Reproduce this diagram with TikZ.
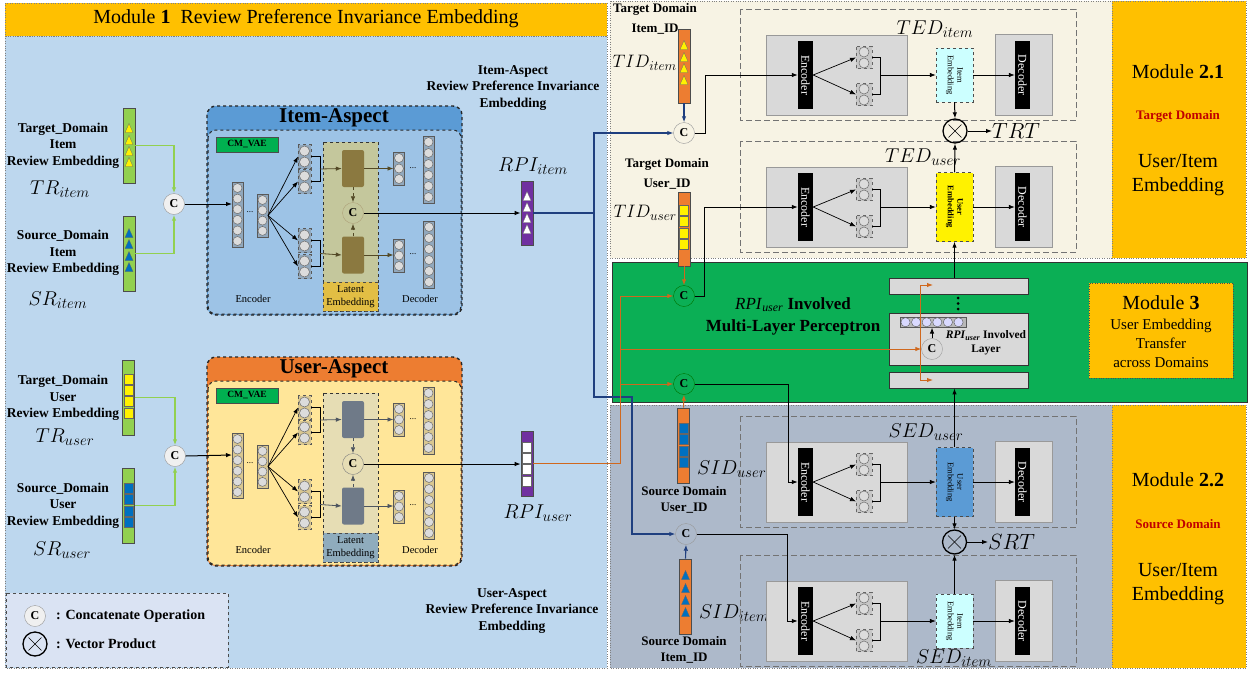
\documentclass[tikz,border=0pt]{standalone}
\usepackage{fix-cm}
\usepackage{fontspec}
\setmainfont{Liberation Serif}
\DeclareMathSizes{20}{20}{15}{11}
\DeclareMathSizes{22}{22}{16.5}{12}
\DeclareMathSizes{18}{18}{13.5}{10}
\usetikzlibrary{arrows.meta,calc}
\definecolor{leftbg}{HTML}{BDD7EE}
\definecolor{hdr}{HTML}{FFC000}
\definecolor{cream}{HTML}{F7F3E4}
\definecolor{mlpgreen}{HTML}{0BAF55}
\definecolor{botbg}{HTML}{ADB9CA}
\definecolor{iaHead}{HTML}{5B9BD5}
\definecolor{iaBody}{HTML}{9DC3E6}
\definecolor{uaHead}{HTML}{ED7D31}
\definecolor{uaBody}{HTML}{FFE699}
\definecolor{cmgreen}{HTML}{00B050}
\definecolor{latI}{HTML}{C4C79C}
\definecolor{blkI}{HTML}{8B7940}
\definecolor{lblI}{HTML}{E2BE44}
\definecolor{latU}{HTML}{E6DDB4}
\definecolor{blkU}{HTML}{6F7A88}
\definecolor{lblU}{HTML}{8FACBD}
\definecolor{barG}{HTML}{92D050}
\definecolor{barO}{HTML}{ED7D31}
\definecolor{purp}{HTML}{7030A0}
\definecolor{myblue}{HTML}{0070C0}
\definecolor{navy}{HTML}{1F3F7F}
\definecolor{orln}{HTML}{D0681E}
\definecolor{embB}{HTML}{5B9BD5}
\definecolor{embC}{HTML}{CCFFFF}
\definecolor{gbox}{HTML}{D9D9D9}
\definecolor{legbg}{HTML}{DAE3F3}
\definecolor{darkred}{HTML}{C00000}
\definecolor{neurfill}{HTML}{DCDCDC}

\newcommand\fsz[2]{\fontsize{#1}{#2}\selectfont}

\tikzset{
 neur/.style={draw=gray!85!black, fill=neurfill, line width=0.5pt},
 lbl/.style={font=\fsz{13.5}{16.5}\bfseries, align=center, inner sep=0pt},
 mlbl/.style={font=\fsz{20}{24}, inner sep=0pt},
 sm/.style={font=\fsz{10.5}{12.5}, align=center, inner sep=0pt},
 cnode/.style={circle, draw=gray!80, fill=white!88!gray, minimum size=21pt, inner sep=0pt, font=\fsz{12}{12}\bfseries},
 gcnode/.style={cnode, draw=black!55!green, fill=mlpgreen},
 xnode/.style={circle, draw=black, line width=1.3pt, minimum size=24pt, inner sep=0pt},
 cmvae/.style={draw=black!70, fill=cmgreen, minimum width=62pt, minimum height=15pt, inner sep=0pt, font=\fsz{9.5}{10}\bfseries},
 encbar/.style={fill=black, minimum width=15pt, minimum height=68pt, inner sep=0pt},
 bartxt/.style={rotate=-90, text=white, font=\fsz{12}{12}, inner sep=0pt},
 embI/.style={draw=black!70, dashed, fill=embC, minimum width=37pt, minimum height=54pt, inner sep=0pt},
 embY/.style={draw=black!70, dashed, fill=yellow, minimum width=37pt, minimum height=69pt, inner sep=0pt},
 embBl/.style={draw=black!70, dashed, fill=embB, minimum width=37pt, minimum height=69pt, inner sep=0pt},
 embtxt/.style={rotate=-90, font=\fsz{8.5}{9.5}, align=center, inner sep=0pt},
 graybox/.style={draw=gray!80, fill=gbox, line width=0.6pt},
 dashbox/.style={draw=gray!90!black, dash pattern=on 6pt off 3pt, line width=1pt},
 vbar/.style={draw=black!70, minimum width=12pt, inner sep=0pt, line width=0.6pt},
 mlpbar/.style={draw=black!80, fill=gbox, minimum width=139pt, inner sep=0pt, line width=0.8pt},
 oline/.style={draw=orln, line width=1pt},
 bline/.style={draw=navy, line width=1.1pt},
 gline/.style={draw=barG, line width=1.8pt},
 kline/.style={draw=black, line width=1pt},
 tline/.style={draw=black, line width=0.7pt},
}

\newcommand\NNcol[4]{%
 \draw[colfr] ({#1-5.5},{#2-6}) rectangle ({#1+5.5},{#2+(#3-1)*#4+6});
 \foreach \k in {1,...,#3}{\draw[neur] (#1,{#2+(\k-1)*#4}) circle[radius=4.5pt];}
}
\newcommand\NNpair[2]{%
 \draw[colfr, dashed] ({#1-6.5},{#2-6.5}) rectangle ({#1+6.5},{#2+17.5});
 \draw[neur] (#1,#2) circle[radius=5pt];
 \draw[neur] (#1,{#2+11}) circle[radius=5pt];
}
\newcommand\NNpairS[2]{%
 \draw[draw=gray!80!black, dashed, fill=gbox!80!gray, line width=0.5pt] ({#1-8},{#2-5.5}) rectangle ({#1+8},{#2+16.5});
 \draw[neur] (#1,#2) circle[radius=5pt];
 \draw[neur] (#1,{#2+11}) circle[radius=5pt];
}
\newcommand\triU[3]{\draw[fill=#3, draw=black!60, line width=0.3pt] ({#1-4},{#2+4.5}) -- ({#1+4},{#2+4.5}) -- (#1,{#2-4.5}) -- cycle;}
\newcommand\sqU[3]{\draw[fill=#3, draw=black!60, line width=0.3pt] ({#1-4.5},{#2-5}) rectangle ({#1+4.5},{#2+5});}

\newcommand\AspectBody[1]{%
 \draw[aspHead, dashed, line width=1.4pt, rounded corners=9pt] (207,106) rectangle (462,315);
 \draw[aspBody, dashed, line width=1pt, rounded corners=8pt] (208,130) rectangle (461,314);
 \node[font=\fsz{21}{24}\bfseries, inner sep=0pt] (title) at (334,118) {#1};
 \node[cmvae] (cm) at (247,144.5) {CM\_VAE};
 \NNcol{237.5}{188}{6}{10.6}
 \node[font=\fsz{9}{9}, inner sep=0pt] (d1) at (250,212) {...};
 \NNcol{262.5}{200}{4}{10.3}
 \coordinate (encin) at (232,204);
 \coordinate (encout) at (268,215.5);
 \NNpair{304.5}{151}\NNpair{304.5}{176}\NNpair{304.5}{235}\NNpair{304.5}{261}
 \foreach \yy in {156.5,181.5,240.5,266.5}{\draw[tline,->] (encout) -- (298,\yy);}
 \draw[latbg, dashed, line width=0.9pt] (323,142) rectangle (378,311);
 \node[latlbl] (ll) at (350.5,296.5) {Latent\\Embedding};
 \node[blk] (b1) at (353,168.5) {};
 \node[blk] (b2) at (353,255) {};
 \node[latc] (lc) at (353,213) {C};
 \draw[blkarrow, dashed, ->] (b1.south) -- (lc.north);
 \draw[blkarrow, dashed, ->] (b2.north) -- (lc.south);
 \draw[tline] (311,156.5) -| (320,181.5) -- (311,181.5);
 \draw[tline] (311,240.5) -| (320,266.5) -- (311,266.5);
 \draw[blkarrow, ->] (320,169) -- (b1.west);
 \draw[blkarrow, ->] (320,253.5) -- (b2.west);
 \draw[blkarrow, ->] (b1.east) -- (393.5,168.5);
 \draw[blkarrow, ->] (b2.east) -- (393.5,255);
 \NNcol{399}{158}{3}{10.5}
 \NNcol{399}{245}{3}{10.5}
 \node[font=\fsz{9}{9}, inner sep=0pt] (d2) at (413,168) {...};
 \node[font=\fsz{9}{9}, inner sep=0pt] (d3) at (413,254) {...};
 \NNcol{428.5}{142}{6}{11}
 \NNcol{429}{227}{6}{11}
 \node[sm] (enl) at (253,299) {Encoder};
 \node[sm] (del) at (420,299) {Decoder};
}

\newcommand\EDunit[3]{%
 \draw[dashbox] (740,-66) rectangle (1076,45);
 \draw[graybox] (766,-40) rectangle (907,40);
 \node[encbar] (enc) at (805.5,0) {};
 \node[bartxt] (enct) at (enc) {Encoder};
 \NNpairS{864}{-23}\NNpairS{864}{14}
 \draw[tline,->] (enc.east) -- (856,-17.5);
 \draw[tline,->] (enc.east) -- (856,19.5);
 \draw[tline] (872,-17.5) -| (880,19.5) -- (872,19.5);
 \node[#1] (emb) at (954.5,0) {};
 \node[embtxt, #3] (embt) at (emb) {#2};
 \draw[tline,->] (880,0) -- (emb.west);
 \draw[graybox] (995,-41) rectangle (1052,40);
 \node[encbar] (dec) at (1022.5,0) {};
 \node[bartxt] (dect) at (dec) {Decoder};
 \draw[tline,->] (emb.east) -- (dec.west);
}

\begin{document}
\begin{tikzpicture}[x=1pt,y=-1pt, >={Latex[length=6pt,width=4.5pt]}]
\useasboundingbox (0,0) rectangle (1249,672);
\fill[white] (0,0) rectangle (1249,672);

% ---------- panels
\draw[fill=leftbg, draw=gray, dotted] (5,36) rectangle (607,668);
\draw[fill=hdr, draw=gray, dotted] (5,3) rectangle (607,36);
\node[font=\fsz{20}{24}, inner sep=0pt] (m1t) at (306,19) {Module \textbf{1}\ \ Review Preference Invariance Embedding};

\draw[fill=cream, draw=gray, dotted] (610,1) rectangle (1112,258);
\draw[fill=hdr, draw=gray, dotted] (1112,1) rectangle (1246,258);
\draw[fill=mlpgreen, draw=black!80, line width=0.8pt] (612,262) rectangle (1247,402);
\draw[fill=botbg, draw=gray, dotted] (610,405) rectangle (1112,668);
\draw[fill=hdr, draw=gray, dotted] (1112,405) rectangle (1246,668);

% module texts
\node[font=\fsz{20}{24}, inner sep=0pt] (m21a) at (1178,72) {Module \textbf{2.1}};
\node[font=\fsz{13}{15}\bfseries, text=darkred, inner sep=0pt] (m21b) at (1178,116) {Target Domain};
\node[font=\fsz{20}{24}, align=center, inner sep=0pt] (m21c) at (1178,175) {User/Item\\Embedding};
\node[font=\fsz{20}{24}, inner sep=0pt] (m22a) at (1178,480) {Module \textbf{2.2}};
\node[font=\fsz{13}{15}\bfseries, text=darkred, inner sep=0pt] (m22b) at (1178,524) {Source Domain};
\node[font=\fsz{20}{24}, align=center, inner sep=0pt] (m22c) at (1178,584) {User/Item\\Embedding};
\node[draw=black!70, dotted, fill=hdr, minimum width=144pt, minimum height=95pt, inner sep=0pt] (m3) at (1161,330.5) {};
\node[font=\fsz{20}{22}, inner sep=0pt] (m3a) at (1161,303) {Module \textbf{3}};
\node[font=\fsz{15}{19}, align=center, inner sep=0pt] (m3b) at (1161,343) {User Embedding\\Transfer\\across Domains};

% ---------- left inputs
\node[lbl] (tdI) at (63,145.5) {Target\_Domain\\Item\\Review Embedding};
\node[lbl] (sdI) at (63,253) {Source\_Domain\\Item\\Review Embedding};
\node[lbl] (tdU) at (63,398) {Target\_Domain\\User\\Review Embedding};
\node[lbl] (sdU) at (63,505.5) {Source\_Domain\\User\\Review Embedding};
\node[mlbl] (trIl) at (60,189) {$TR_{item}$};
\node[mlbl] (srIl) at (58,300) {$SR_{item}$};
\node[mlbl] (trUl) at (65,437) {$TR_{user}$};
\node[mlbl] (srUl) at (62,550) {$SR_{user}$};

\node[vbar, fill=barG, minimum height=75pt] (trI) at (129,145.5) {};
\foreach \yy in {128,140,151,162}{\triU{129}{\yy}{yellow}}
\node[vbar, fill=barG, minimum height=75pt] (srI) at (129,253.5) {};
\foreach \yy in {233,244,256,267}{\triU{129}{\yy}{myblue}}
\node[vbar, fill=barG, minimum height=75pt] (trU) at (128.5,397.5) {};
\foreach \yy in {379,390,401.5,413}{\sqU{128.5}{\yy}{yellow}}
\node[vbar, fill=barG, minimum height=75pt] (srU) at (128.5,505.5) {};
\foreach \yy in {488,499,511,522.5}{\sqU{128.5}{\yy}{myblue}}

\node[cnode] (cI) at (174,204) {C};
\node[cnode] (cU) at (175,456) {C};
\draw[gline,->] (trI.east) -| (cI.north);
\draw[gline,->] (srI.east) -| (cI.south);
\draw[gline,->] (trU.east) -| (cU.north);
\draw[gline,->] (srU.east) -| (cU.south);

% ---------- aspects
\begin{scope}[name prefix=i-,
  aspHead/.style={fill=iaHead, draw=black!85},
  aspBody/.style={fill=iaBody, draw=black!85},
  colfr/.style={draw=gray!70!black, fill=iaBody!60!gray, line width=0.5pt},
  latbg/.style={fill=latI, draw=black!80},
  latlbl/.style={fill=lblI, draw=black!70, dashed, minimum width=55pt, minimum height=29pt, inner sep=0pt, font=\fsz{10.5}{12.5}, align=center},
  blk/.style={fill=blkI, rounded corners=2pt, minimum width=22pt, minimum height=37pt, inner sep=0pt},
  latc/.style={cnode, draw=blkI!70, fill=latI},
  blkarrow/.style={draw=blkI!60!black, line width=0.8pt}]
\AspectBody{Item-Aspect}
\end{scope}
\begin{scope}[shift={(0,251)}, name prefix=u-,
  aspHead/.style={fill=uaHead, draw=black!85},
  aspBody/.style={fill=uaBody, draw=black!85},
  colfr/.style={draw=gray!70!black, fill=uaBody!70!gray, line width=0.5pt},
  latbg/.style={fill=latU, draw=black!80},
  latlbl/.style={fill=lblU, draw=black!70, dashed, minimum width=55pt, minimum height=29pt, inner sep=0pt, font=\fsz{10.5}{12.5}, align=center},
  blk/.style={fill=blkU, rounded corners=2pt, minimum width=22pt, minimum height=37pt, inner sep=0pt},
  latc/.style={cnode, draw=gray, fill=latU},
  blkarrow/.style={draw=blkU!70!black, line width=0.8pt}]
\AspectBody{User-Aspect}
\end{scope}
\draw[kline,->] (cI.east) -- (i-encin);
\draw[kline,->] (cU.east) -- (u-encin);

% ---------- RPI bars
\node[vbar, fill=purp, minimum height=64pt] (rpiI) at (527,213) {};
\foreach \yy in {196,207,218,229}{\triU{527}{\yy}{white}}
\node[vbar, fill=purp, minimum height=65pt] (rpiU) at (527,463.5) {};
\foreach \yy in {447,458,469,481}{\sqU{527}{\yy}{white}}
\draw[kline,->] (i-lc.east) -- (rpiI.west |- i-lc.east);
\draw[kline,->] (u-lc.east) -- (rpiU.west |- u-lc.east);
\node[mlbl] (rpiIl) at (533,166) {$RPI_{item}$};
\node[mlbl] (rpiUl) at (538,513) {$RPI_{user}$};
\node[lbl] (iaTxt) at (513,88) {Item-Aspect\\Review Preference Invariance\\Embedding};
\node[lbl] (uaTxt) at (512,611) {User-Aspect\\Review Preference Invariance\\Embedding};

% ---------- legend
\draw[fill=legbg, draw=gray!60!black, dashed, line width=1pt] (6,593) rectangle (228,667);
\node[cnode] (lgC) at (35,616) {C};
\node[xnode] (lgX) at (35,644) {};
\draw[line width=0.6pt, shorten <=3.5pt, shorten >=3.5pt] (lgX.north west) -- (lgX.south east);
\draw[line width=0.6pt, shorten <=3.5pt, shorten >=3.5pt] (lgX.north east) -- (lgX.south west);
\node[font=\fsz{14}{16}\bfseries, anchor=west, inner sep=0pt] (lgCt) at (56,616) {: Concatenate Operation};
\node[font=\fsz{14}{16}\bfseries, anchor=west, inner sep=0pt] (lgXt) at (56,644) {: Vector Product};

% ---------- right ID bars
\node[lbl, font=\fsz{13}{20}\bfseries] (tdIt) at (655,19) {Target Domain\\Item\_ID};
\node[vbar, fill=barO, minimum height=74pt] (tidI) at (684,66) {};
\foreach \yy in {45,57,68,80}{\triU{684}{\yy}{yellow}}
\node[mlbl, font=\fsz{18}{22}, anchor=east] (tidIl) at (677,63) {$TID_{item}$};
\node[lbl, font=\fsz{13}{20}\bfseries] (tdUt) at (667,174) {Target Domain\\User\_ID};
\node[vbar, fill=barO, minimum height=74pt] (tidU) at (684,229) {};
\foreach \yy in {210,221.5,233,244.5}{\sqU{684}{\yy}{yellow}}
\node[mlbl, font=\fsz{18}{22}, anchor=east] (tidUl) at (677,213) {$TID_{user}$};
\node[vbar, fill=barO, minimum height=75pt] (sidU) at (683.5,445.5) {};
\foreach \yy in {428,439.5,451,462.5}{\sqU{683.5}{\yy}{myblue}}
\node[mlbl, anchor=west] (sidUl) at (697,469) {$SID_{user}$};
\node[lbl, font=\fsz{13}{16}\bfseries] (sdUt) at (684,500) {Source Domain\\User\_ID};
\node[vbar, fill=barO, minimum height=75pt] (sidI) at (685.5,596.5) {};
\foreach \yy in {575,588,600,612}{\triU{685.5}{\yy}{myblue}}
\node[mlbl, anchor=west] (sidIl) at (699,613) {$SID_{item}$};
\node[lbl, font=\fsz{13}{16}\bfseries] (sdIt) at (684,650) {Source Domain\\Item\_ID};

% ---------- C nodes right
\node[cnode, fill=cream] (cT1) at (684,133) {C};
\node[gcnode] (cG1) at (684,296) {C};
\node[gcnode] (cG2) at (684,384) {C};
\node[cnode, fill=botbg] (cS) at (686,534) {C};

% ---------- encoder/decoder units
\begin{scope}[shift={(0,75)}, name prefix=t1-]
\EDunit{embI}{Item\\Embedding}{}
\end{scope}
\begin{scope}[shift={(0,207)}, name prefix=t2-]
\EDunit{embY}{User\\Embedding}{font=\fsz{8.5}{9.5}\bfseries}
\end{scope}
\begin{scope}[shift={(0,482)}, name prefix=s1-]
\EDunit{embBl}{User\\Embedding}{}
\end{scope}
\begin{scope}[shift={(0,621)}, name prefix=s2-]
\EDunit{embI}{Item\\Embedding}{}
\end{scope}
\node[mlbl] (tedI) at (935,29) {$TED_{item}$};
\node[mlbl] (tedU) at (923,157) {$TED_{user}$};
\node[mlbl] (sedU) at (926,432) {$SED_{user}$};
\node[mlbl] (sedI) at (954,658) {$SED_{item}$};

% product nodes
\node[xnode] (xT) at (955,131) {};
\draw[line width=0.6pt, shorten <=3.5pt, shorten >=3.5pt] (xT.north west) -- (xT.south east);
\draw[line width=0.6pt, shorten <=3.5pt, shorten >=3.5pt] (xT.north east) -- (xT.south west);
\node[xnode] (xS) at (954.5,542) {};
\draw[line width=0.6pt, shorten <=3.5pt, shorten >=3.5pt] (xS.north west) -- (xS.south east);
\draw[line width=0.6pt, shorten <=3.5pt, shorten >=3.5pt] (xS.north east) -- (xS.south west);
\node[mlbl, font=\fsz{22}{24}, anchor=west] (trt) at (992,131) {$TRT$};
\node[mlbl, font=\fsz{22}{24}, anchor=west] (srt) at (988,542) {$SRT$};
\draw[kline,->] (t1-emb.south) -- (xT.north);
\draw[kline,->] (t2-emb.north) -- (xT.south);
\draw[kline,->] (xT.east) -- (trt.west);
\draw[kline,->] (s1-emb.south) -- (xS.north);
\draw[kline,->] (s2-emb.north) -- (xS.south);
\draw[kline,->] (xS.east) -- (srt.west);

% ---------- MLP
\node[mlpbar, minimum height=16pt] (mlpT) at (958.5,286) {};
\node[mlpbar, minimum height=52pt] (mlpM) at (958.5,339) {};
\node[mlpbar, minimum height=16pt] (mlpB) at (958.5,380) {};
\foreach \yy in {298,303.5,309}{\fill (958,\yy) circle[radius=1.5pt];}
\draw[fill=gray!55, draw=gray!70!black, line width=0.5pt] (900,317) rectangle (966,327.5);
\foreach \k in {0,...,5}{\draw[draw=gray!70!black, fill=blue!15, line width=0.4pt] ({905.5+10.6*\k},322.2) circle[radius=4.6pt];}
\node[cnode, fill=gbox] (cM) at (932,349) {C};
\draw[kline,->] (cM.north) -- (932,327.5);
\node[font=\fsz{11.5}{14}\bfseries, align=center, inner sep=0pt] (mlt) at (986,343) {\textit{RPI}\textsubscript{\textit{user}} Involved\\Layer};
\node[font=\fsz{17}{22}\bfseries, align=center, inner sep=0pt] (mlpt) at (793,316) {\textmd{\textit{RPI}\textsubscript{\textit{user}}} Involved\\Multi-Layer Perceptron};
\draw[kline,->] (mlpT.north -| t2-emb.south) -- (t2-emb.south);
\draw[kline,->] (s1-emb.north) -- (s1-emb.north |- mlpB.south);

% ---------- connectors
\coordinate (bj) at (594,213);
\draw[bline] (rpiI.east) -- (bj);
\draw[bline,->] (bj) |- (cT1.west);
\draw[bline,->] (bj) |- (632,397) |- (cS.west);
\draw[bline,->] (tidI.south) -- (cT1.north);
\draw[bline,->] (sidI.north) -- (cS.south);

\coordinate (oj) at (620,296);
\coordinate (om) at (620,349);
\coordinate (ob) at (620,384);
\draw[oline,->] (rpiU.east) -| (oj) -- (cG1.west);
\draw[oline,->] (om) -- (cM.west);
\draw[oline,->] (ob) -- (cG2.west);
\coordinate (ovt) at (920,285);
\coordinate (ovb) at (920,380);
\draw[oline] (ovt) -- (ovb);
\draw[oline,->] (ovt) -- (933,285);
\draw[oline,->] (ovb) -- (933,380);
\draw[oline,->] (tidU.south) -- (cG1.north);
\draw[oline,->] (sidU.north) -- (cG2.south);

\draw[kline,->] (cT1.east) -- (705,133) |- (t1-enc.west);
\draw[kline,->] (cG1.east) -- (704,296) |- (t2-enc.west);
\draw[kline,->] (cG2.east) -- (788,384) |- (s1-enc.west);
\draw[kline,->] (cS.east) -- (787,534) |- (s2-enc.west);
\end{tikzpicture}
\end{document}
